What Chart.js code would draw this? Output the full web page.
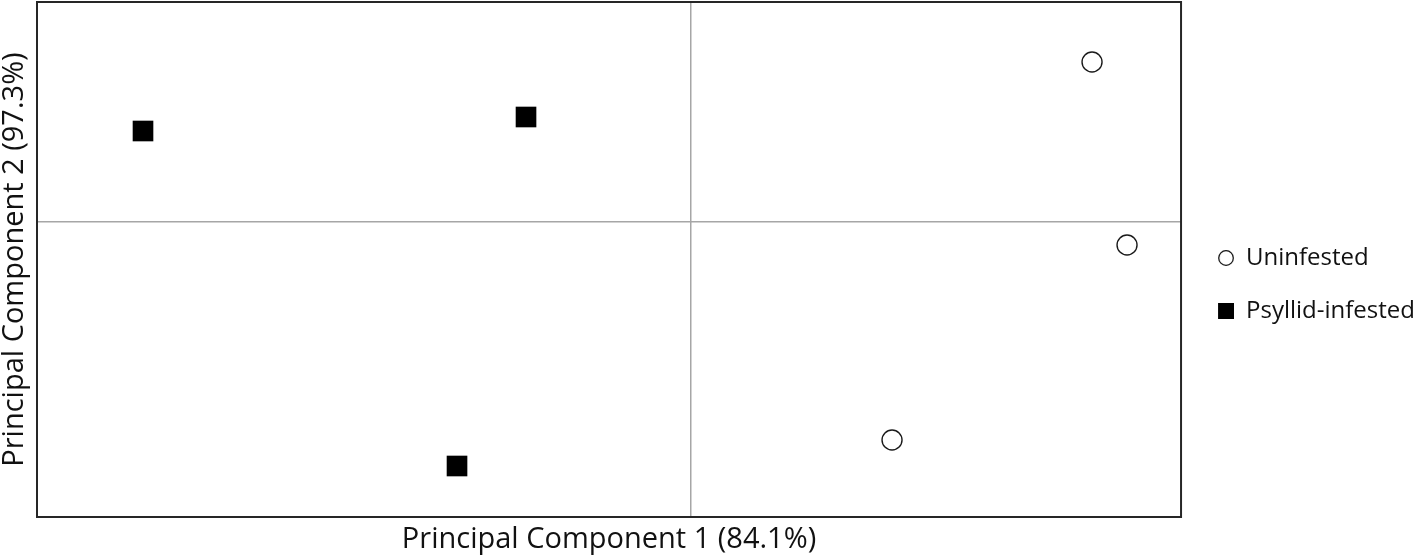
<!DOCTYPE html>
<html><head><meta charset="utf-8">
<script src="https://cdn.jsdelivr.net/npm/chart.js@4"></script>
<style>html,body{margin:0;padding:0;background:#fff;overflow:hidden}</style>
</head><body>
<canvas id="c" width="1418" height="559"></canvas>
<script>
const seriesNames = ["Uninfested", "Psyllid-infested"];
const uninfestedPC1 = [4.01, 4.36, 2.01];
const uninfestedPC2 = [1.60, -0.23, -2.18];
const infestedPC1 = [-5.48, -1.65, -2.34];
const infestedPC2 = [0.91, 1.05, -2.44];
const axisTitles = ["Principal Component 1 (84.1%)", "Principal Component 2 (97.3%)"];
const xLimits = [-6.54, 4.90];
const yLimits = [-2.95, 2.20];

const FONT = "'Open Sans', 'Noto Sans', sans-serif";
const TEXT_COLOR = '#111111';

function toPoints(xs, ys) { return xs.map((x, i) => ({ x: x, y: ys[i] })); }

// legend marker images: 24px wide slot, 16px marker drawn at its right end
function markerCanvas(kind) {
  const c = document.createElement('canvas');
  c.width = 24; c.height = 18;
  const g = c.getContext('2d');
  if (kind === 'circle') {
    g.strokeStyle = '#111'; g.lineWidth = 1.3;
    g.beginPath(); g.arc(16, 9, 7.3, 0, Math.PI * 2); g.stroke();
  } else {
    g.fillStyle = '#000'; g.fillRect(8, 1, 16, 16);
  }
  return c;
}
const legendMarkers = [markerCanvas('circle'), markerCanvas('rect')];

const framePlugin = {
  id: 'frame',
  afterDatasetsDraw(chart) {
    const a = chart.chartArea, ctx = chart.ctx;
    ctx.save();
    ctx.strokeStyle = '#262626';
    ctx.lineWidth = 2;
    ctx.strokeRect(a.left, a.top, a.right - a.left, a.bottom - a.top);
    ctx.restore();
  }
};

const onlyZero = (axis) => { axis.ticks = [{ value: 0 }]; };
const zeroGrid = (ctx) => (ctx.tick && ctx.tick.value === 0) ? '#a6a6a6' : 'rgba(0,0,0,0)';

new Chart(document.getElementById('c'), {
  type: 'scatter',
  data: {
    datasets: [
      {
        label: seriesNames[0],
        data: toPoints(uninfestedPC1, uninfestedPC2),
        pointStyle: 'circle',
        pointRadius: 10,
        pointHoverRadius: 10,
        backgroundColor: '#ffffff',
        borderColor: '#1a1a1a',
        pointBorderWidth: 1.4,
        borderWidth: 1.4
      },
      {
        label: seriesNames[1],
        data: toPoints(infestedPC1, infestedPC2),
        pointStyle: 'rect',
        pointRadius: 14.6,
        pointHoverRadius: 14.6,
        backgroundColor: '#000000',
        borderColor: '#000000',
        borderWidth: 0,
        pointBorderWidth: 0
      }
    ]
  },
  options: {
    responsive: false,
    animation: false,
    events: [],
    color: TEXT_COLOR,
    layout: { autoPadding: false, padding: { top: 2, right: -7, bottom: 0, left: 0 } },
    plugins: {
      tooltip: { enabled: false },
      legend: {
        position: 'right',
        align: 'center',
        title: { display: true, text: ' ', color: TEXT_COLOR, font: { size: 8, lineHeight: 1 }, padding: 0 },
        labels: {
          usePointStyle: true,
          pointStyleWidth: 24,
          boxHeight: 18,
          padding: 29,
          color: TEXT_COLOR,
          font: { family: FONT, size: 24 },
          generateLabels: (chart) => chart.data.datasets.map((d, i) => ({
            text: d.label,
            fontColor: TEXT_COLOR,
            pointStyle: legendMarkers[i],
            fillStyle: 'transparent',
            strokeStyle: 'transparent',
            lineWidth: 0,
            hidden: false,
            datasetIndex: i
          }))
        }
      }
    },
    scales: {
      x: {
        type: 'linear',
        min: xLimits[0], max: xLimits[1],
        afterBuildTicks: onlyZero,
        ticks: { display: false },
        grid: { drawTicks: false, color: zeroGrid, lineWidth: 1.5 },
        border: { display: false },
        title: {
          display: true, text: axisTitles[0], color: TEXT_COLOR,
          font: { family: FONT, size: 29 },
          padding: { top: 5.6, bottom: 1.6 }
        }
      },
      y: {
        type: 'linear',
        min: yLimits[0], max: yLimits[1],
        afterBuildTicks: onlyZero,
        ticks: { display: false },
        grid: { drawTicks: false, color: zeroGrid, lineWidth: 1.5 },
        border: { display: false },
        title: {
          display: true, text: axisTitles[1], color: TEXT_COLOR,
          font: { family: FONT, size: 29, lineHeight: 1 },
          padding: { top: 0, bottom: 8 }
        }
      }
    }
  },
  plugins: [framePlugin]
});
</script>
</body></html>
